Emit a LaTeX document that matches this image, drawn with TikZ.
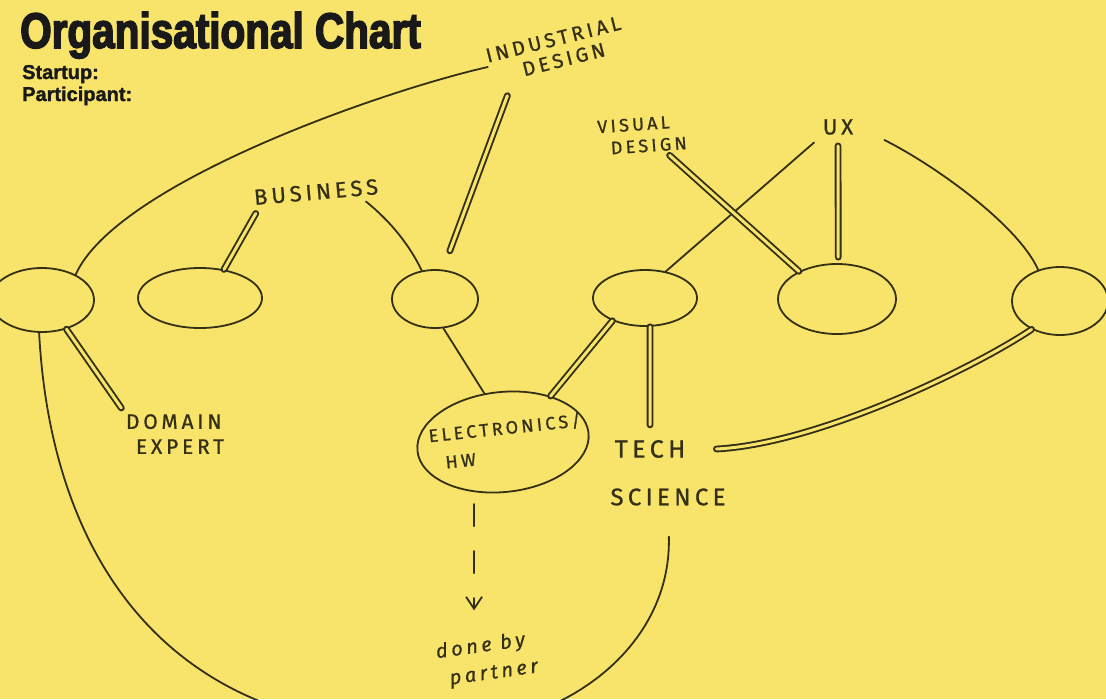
\documentclass[tikz,border=0pt]{standalone}
\usepackage{fontspec}
\setmainfont{Liberation Sans}[BoldFeatures={FakeBold=1.5}]
\newfontfamily\headfont{Liberation Sans}[FakeStretch=0.81,BoldFeatures={FakeBold=3}]
\newfontfamily\handfont{Fira Sans}[LetterSpace=18,FakeBold=0.8]
\usepackage{tikz}
\usetikzlibrary{shapes.geometric,arrows.meta,positioning,calc}

\definecolor{paper}{RGB}{248,228,106}
\definecolor{ink}{RGB}{52,48,22}

\tikzset{
  blob/.style={draw=ink, ellipse, line width=1.8pt, inner sep=0pt},
  link/.style={draw=ink, line width=1.8pt, line cap=round},
  dbl/.style={link, line width=1.9pt, double=paper, double distance=3pt},
  hand/.style={text=ink, inner sep=1pt, font=\handfont\fontsize{22}{26}\selectfont}
}

\begin{document}
\begin{tikzpicture}[x=1pt, y=-1pt]

\useasboundingbox (0,0) rectangle (1106,699);
\fill[paper] (0,0) rectangle (1106,699);
\clip (0,0) rectangle (1106,699);

% heading
\node[anchor=base west, inner sep=0pt, text=black!90,
      font=\headfont\bfseries\fontsize{50}{50}\selectfont] (title) at (20,48) {Organisational Chart};
\node[anchor=base west, inner sep=0pt, text=black!90,
      font=\bfseries\fontsize{20}{22}\selectfont] (startup) at (22,79) {Startup:};
\node[anchor=base west, inner sep=0pt, text=black!90,
      font=\bfseries\fontsize{20}{22}\selectfont] (partic) at (22,101) {Participant:};

% the empty circles
\node[blob, minimum width=104pt, minimum height=64pt] (e1) at (42,300) {};
\node[blob, minimum width=124pt, minimum height=60pt] (e2) at (200,298) {};
\node[blob, minimum width=86pt,  minimum height=58pt] (e3) at (435,299) {};
\node[blob, minimum width=104pt, minimum height=56pt] (e4) at (645,298) {};
\node[blob, minimum width=118pt, minimum height=70pt] (e5) at (837,299) {};
\node[blob, minimum width=96pt,  minimum height=68pt] (e6) at (1060,301) {};
\node[blob, minimum width=172pt, minimum height=100pt, rotate=6] (elec) at (503,442) {};

% roles
\node[hand, align=left, rotate=14, font=\handfont\fontsize{20}{22}\selectfont]
     (ind) at (556,50) {INDUSTRIAL\\\hspace{32pt}DESIGN};
\node[hand, rotate=5] (busn) at (316,192) {BUSINESS};
\node[hand, align=left, rotate=4, font=\handfont\fontsize{18}{22}\selectfont]
     (visd) at (642,135) {VISUAL\\\hspace{12pt}DESIGN};
\node[hand] (ux) at (838,127) {UX};
\node[hand, align=left, font=\handfont\fontsize{21}{25}\selectfont]
     (dom) at (175,434) {DOMAIN\\\hspace{10pt}EXPERT};
\node[hand, font=\handfont\fontsize{25}{26}\selectfont] (tech) at (650,449) {TECH};
\node[hand, font=\handfont\fontsize{24}{26}\selectfont] (sci) at (668,497) {SCIENCE};
\node[hand, align=left, rotate=6, font=\handfont\fontsize{18}{28}\selectfont]
     (elabel) at (506,441) {ELECTRONICS/\\\hspace{14pt}HW};
\node[hand, align=left, rotate=8, font=\handfont\itshape\fontsize{20}{28}\selectfont]
     (done) at (487,660) {done by\\\hspace{10pt}partner};

\coordinate (low) at (420,730);

% links
\draw[link] (e1.37) .. controls +(40,-90) and +(-110,25) .. (ind.west);
\draw[dbl, shorten >=6pt] (e1.-50) -- (dom.north west);
\draw[link, shorten >=30pt] (e1.-95) .. controls +(12,228) and +(-250,0) .. (low)
      .. controls +(140,5) and +(4,142) .. (sci.south);
\draw[dbl, shorten >=8pt] (e2.50) -- ([xshift=6pt]busn.south west);
\draw[link] ([xshift=-14pt, yshift=-6pt]busn.south east) .. controls +(25,20) and +(-12,-25) .. (e3.115);
\draw[dbl, shorten <=20pt, shorten >=16pt] (e3.75) -- ($(ind.south west)!0.15!(ind.south east)$);
\draw[link] (e3.-74) -- (elec.105);
\draw[dbl] (e4.-145) -- (elec.38);
\draw[dbl, shorten >=14pt] (e4.-80) -- (tech.north);
\draw[link, shorten >=10pt] (e4.52) -- (ux.south west);
\draw[dbl, shorten >=5pt] (e5.144) -- ($(visd.south)!0.5!(visd.south east)$);
\draw[dbl, shorten <=6pt, shorten >=10pt] (e5.88) -- (ux.south);
\draw[link] ([xshift=30pt, yshift=-13pt]ux.east) .. controls +(50,25) and +(-20,-45) .. (e6.125);
\draw[dbl] (e6.-135) .. controls +(-60,40) and +(100,-5) .. ([xshift=30pt]tech.east);
\draw[link, dash pattern=on 22pt off 25pt, shorten <=12pt, shorten >=25pt,
      -{Straight Barb[length=12pt, width=16pt]}] (elec.-126) -- (elec.-126 |- done.north);

\end{tikzpicture}
\end{document}
